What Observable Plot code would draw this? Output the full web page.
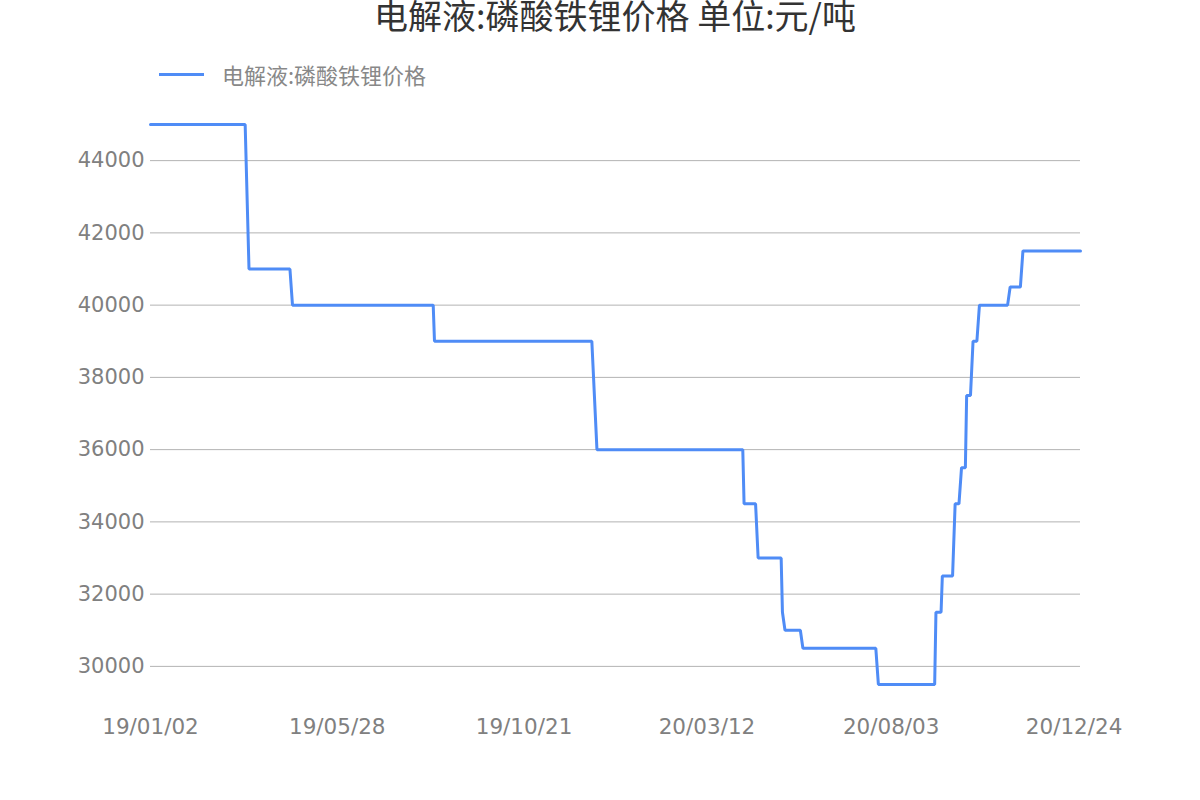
<!DOCTYPE html>
<html>
<head>
<meta charset="utf-8">
<script src="https://cdn.jsdelivr.net/npm/d3@7"></script>
<script src="https://cdn.jsdelivr.net/npm/@observablehq/plot@0.6"></script>
<style>
  html, body { margin: 0; padding: 0; background: #fff; }
  body { width: 1200px; height: 800px; position: relative; overflow: hidden;
         font-family: "DejaVu Sans", "Noto Sans CJK SC", sans-serif; }
  #title { position: absolute; left: 150px; width: 930px; top: -3px; text-align: center;
           font-size: 34px; line-height: 36px; color: #333; white-space: nowrap;
           font-family: "Noto Sans CJK SC", "DejaVu Sans", sans-serif; }
  #legend { position: absolute; left: 159px; top: 62px; height: 24px; display: flex; align-items: center; }
  #legend .swatch { width: 45px; height: 3px; }
  #legend .label { margin-left: 18px; font-size: 22px; color: #888;
                   font-family: "Noto Sans CJK SC", "DejaVu Sans", sans-serif; }
  #chart { position: absolute; left: 0; top: 90px; }
  #chart svg text { font-family: "DejaVu Sans", "Noto Sans CJK SC", sans-serif; }
</style>
</head>
<body>
<div id="title"></div>
<div id="legend"><span class="swatch"></span><span class="label"></span></div>
<div id="chart"></div>
<script>
const titleText = "电解液:磷酸铁锂价格 单位:元/吨";
const seriesName = "电解液:磷酸铁锂价格";
const lineColor = "#4f8cf6";

// Vertices of the price series (date, price in 元/吨)
const dates = [
  "2019-01-02", "2019-03-17", "2019-03-20", "2019-04-21", "2019-04-23",
  "2019-08-11", "2019-08-12", "2019-12-13", "2019-12-17",
  "2020-04-09", "2020-04-10", "2020-04-19", "2020-04-21",
  "2020-05-09", "2020-05-10", "2020-05-12", "2020-05-24", "2020-05-26",
  "2020-07-22", "2020-07-24", "2020-09-06", "2020-09-07",
  "2020-09-11", "2020-09-12", "2020-09-20", "2020-09-22",
  "2020-09-25", "2020-09-27", "2020-09-30", "2020-10-01",
  "2020-10-04", "2020-10-06", "2020-10-09", "2020-10-11",
  "2020-11-02", "2020-11-04", "2020-11-12", "2020-11-14", "2020-12-29"
];
const prices = [
  45000, 45000, 41000, 41000, 40000,
  40000, 39000, 39000, 36000,
  36000, 34500, 34500, 33000,
  33000, 31500, 31000, 31000, 30500,
  30500, 29500, 29500, 31500,
  31500, 32500, 32500, 34500,
  34500, 35500, 35500, 37500,
  37500, 39000, 39000, 40000,
  40000, 40500, 40500, 41500, 41500
];
const xTickLabels = ["2019-01-02", "2019-05-28", "2019-10-21", "2020-03-12", "2020-08-03", "2020-12-24"];
const yTicks = [30000, 32000, 34000, 36000, 38000, 40000, 42000, 44000];
const yDomain = [29000, 45000];

const data = dates.map((d, i) => ({date: d3.utcParse("%Y-%m-%d")(d), price: prices[i]}));
const xTicks = xTickLabels.map(d => d3.utcParse("%Y-%m-%d")(d));

document.getElementById("title").textContent = titleText;
document.querySelector("#legend .label").textContent = seriesName;
document.querySelector("#legend .swatch").style.background = lineColor;

const font = "'DejaVu Sans', 'Noto Sans CJK SC', sans-serif";
const chart = Plot.plot({
  width: 1200,
  height: 662,
  marginLeft: 150,
  marginRight: 120,
  marginTop: 34,
  marginBottom: 50,
  style: {fontFamily: font, fontSize: "21px", color: "#808080", background: "#fff"},
  x: {type: "utc", domain: [data[0].date, data[data.length - 1].date]},
  y: {domain: yDomain},
  marks: [
    Plot.gridY(yTicks, {stroke: "#b3b3b3", strokeOpacity: 1, strokeWidth: 1}),
    Plot.axisY(yTicks, {tickSize: 0, tickPadding: 6, tickFormat: d3.format("d"), label: null, fill: "#808080", fontSize: 21, fontFamily: font}),
    Plot.axisX(xTicks, {tickSize: 0, tickPadding: 16, tickFormat: d3.utcFormat("%y/%m/%d"), label: null, fill: "#808080", fontSize: 21.5, fontFamily: font}),
    Plot.line(data, {x: "date", y: "price", stroke: lineColor, strokeWidth: 3, strokeLinejoin: "miter"})
  ]
});
document.getElementById("chart").appendChild(chart);
</script>
</body>
</html>
